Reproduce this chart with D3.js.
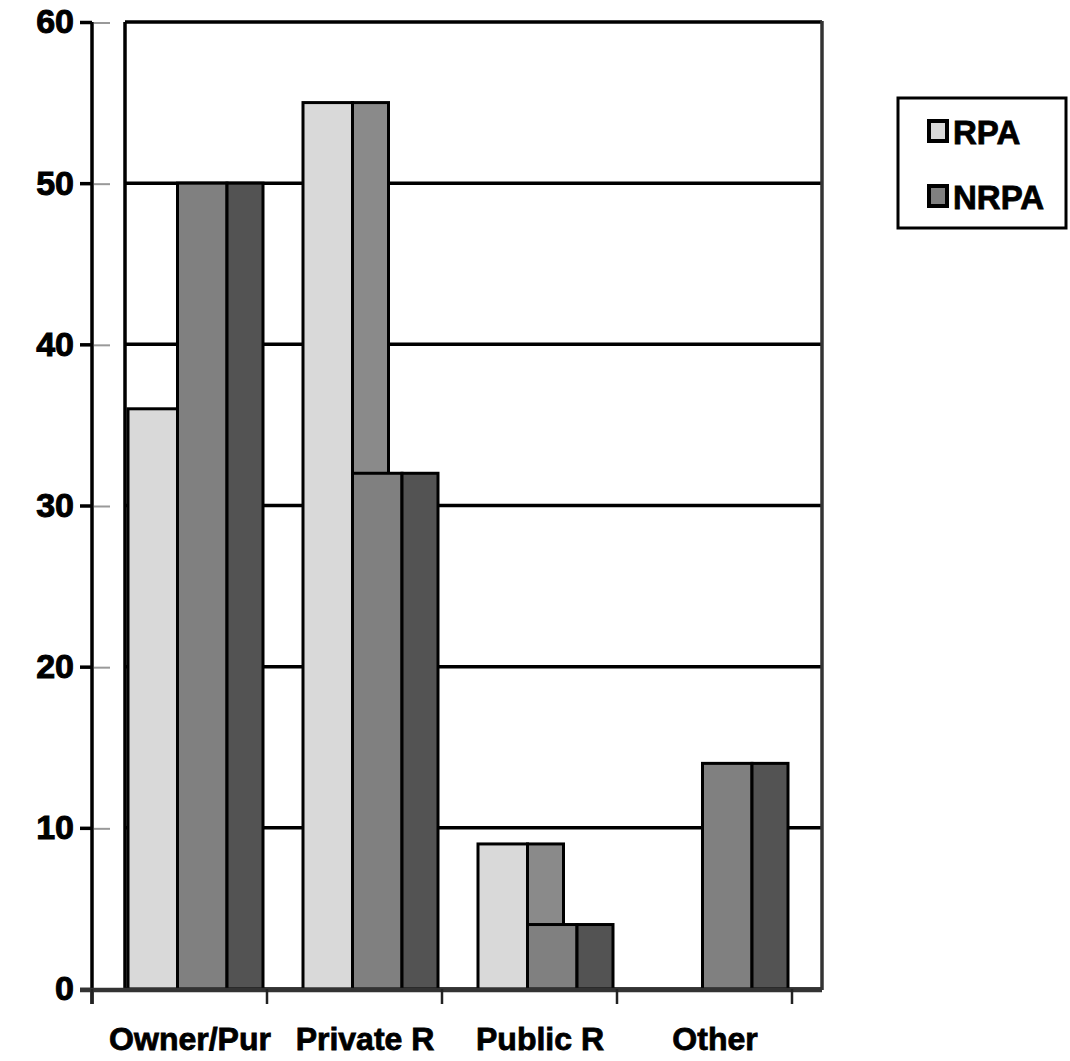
<!DOCTYPE html>
<html>
<head>
<meta charset="utf-8">
<script src="https://cdn.jsdelivr.net/npm/d3@7/dist/d3.min.js"></script>
<style>
  body { margin: 0; background: #fff; }
  text { font-family: "Liberation Sans", Arial, sans-serif; font-weight: bold; }
</style>
</head>
<body>
<div id="chart"></div>
<script>
var categories = ["Owner/Pur", "Private R", "Public R", "Other"];
var rpaValues = [36, 55, 9, 0];
var nrpaValues = [50, 32, 4, 14];
var yTicks = [0, 10, 20, 30, 40, 50, 60];
var seriesNames = ["RPA", "NRPA"];

var width = 1070, height = 1061;
var axisLeft = 92, axisRight = 792, wallShift = 33, wallRight = 822;

var svg = d3.select("#chart")
  .append("svg")
    .attr("width", width)
    .attr("height", height);

var y = d3.scaleLinear().domain([0, 60]).range([989, 22]);
var x = d3.scaleBand().domain(categories).range([axisLeft, axisRight]).padding(0);
var bw = x.bandwidth();

// pieces of a group, as share of the band
var gap = 36 / 175, frontW = 49.5 / 175, sideW = 36 / 175;

// back wall gridlines
svg.selectAll(".grid")
  .data(yTicks)
  .enter()
  .append("line")
    .attr("x1", axisLeft + wallShift)
    .attr("x2", wallRight)
    .attr("y1", function(d) { return y(d); })
    .attr("y2", function(d) { return y(d); })
    .style("stroke", "#000")
    .style("stroke-width", 3.5);

// little grey stubs between axis and wall
svg.selectAll(".stub")
  .data(yTicks.filter(function(d) { return d > 0; }))
  .enter()
  .append("line")
    .attr("x1", axisLeft + 2)
    .attr("x2", axisLeft + 18)
    .attr("y1", function(d) { return y(d) + 1; })
    .attr("y2", function(d) { return y(d) + 1; })
    .style("stroke", "#999")
    .style("stroke-width", 2);

// wall sides
svg.append("line")
  .attr("x1", axisLeft + wallShift).attr("x2", axisLeft + wallShift)
  .attr("y1", y(60)).attr("y2", y(0))
  .style("stroke", "#000").style("stroke-width", 3.5);
svg.append("line")
  .attr("x1", wallRight).attr("x2", wallRight)
  .attr("y1", y(60) - 1).attr("y2", y(0) + 1)
  .style("stroke", "#333").style("stroke-width", 3.5);

// bars: each series has a front face and a flat side face
var groups = svg.selectAll(".grp")
  .data(categories)
  .enter()
  .append("g")
    .attr("transform", function(d) { return "translate(" + x(d) + ",0)"; });

var parts = [
  {vals: rpaValues, off: gap, w: frontW, fill: "#d9d9d9"},
  {vals: rpaValues, off: gap + frontW, w: sideW, fill: "#8a8a8a"},
  {vals: nrpaValues, off: gap + frontW, w: frontW, fill: "#808080"},
  {vals: nrpaValues, off: gap + 2 * frontW, w: sideW, fill: "#535353"}
];

parts.forEach(function(p) {
  groups.append("rect")
    .attr("x", p.off * bw)
    .attr("width", p.w * bw)
    .attr("y", function(d, i) { return y(p.vals[i]); })
    .attr("height", function(d, i) { return y(0) - y(p.vals[i]); })
    .style("fill", p.fill)
    .style("stroke", function(d, i) { return p.vals[i] > 0 ? "#000" : "none"; })
    .style("stroke-width", 3);
});

// y axis
var yAxis = svg.append("g")
  .attr("transform", "translate(" + axisLeft + ",0)")
  .call(d3.axisLeft(y).tickValues(yTicks).tickSize(12).tickPadding(6).tickFormat(d3.format("d")));
yAxis.select(".domain").remove();
yAxis.selectAll(".tick line").style("stroke", "#000").style("stroke-width", 3.5);
yAxis.selectAll(".tick text")
  .style("font-size", "34px")
  .style("fill", "#000")
  .style("stroke", "#000")
  .style("stroke-width", 1);
svg.append("line")
  .attr("x1", axisLeft).attr("x2", axisLeft)
  .attr("y1", y(60)).attr("y2", y(0) + 15)
  .style("stroke", "#000").style("stroke-width", 3.5);

// x axis
svg.append("line")
  .attr("x1", 80).attr("x2", wallRight)
  .attr("y1", y(0) + 1).attr("y2", y(0) + 1)
  .style("stroke", "#333").style("stroke-width", 4.5);
var bounds = categories.map(function(c) { return x(c); }).concat([axisRight]);
svg.selectAll(".xtick")
  .data(bounds)
  .enter()
  .append("line")
    .attr("x1", function(d) { return d; })
    .attr("x2", function(d) { return d; })
    .attr("y1", y(0))
    .attr("y2", y(0) + 15)
    .style("stroke", "#222")
    .style("stroke-width", 2.5);

svg.selectAll(".xlabel")
  .data(categories)
  .enter()
  .append("text")
    .attr("x", function(d) { return x(d) + wallShift / 2 + bw / 2 - 6; })
    .attr("y", 1050)
    .attr("text-anchor", "middle")
    .style("font-size", "32px")
    .style("stroke", "#000")
    .style("stroke-width", 0.8)
    .text(function(d) { return d; });

// legend
var legend = svg.append("g").attr("transform", "translate(898,98)");
legend.append("rect")
  .attr("width", 168).attr("height", 130)
  .style("fill", "#fff").style("stroke", "#000").style("stroke-width", 3);
var legendFills = ["#d9d9d9", "#808080"];
var items = legend.selectAll(".item")
  .data(seriesNames)
  .enter()
  .append("g")
    .attr("transform", function(d, i) { return "translate(0," + (33 + i * 65) + ")"; });
items.append("rect")
  .attr("x", 31).attr("y", -10)
  .attr("width", 18).attr("height", 20)
  .style("fill", function(d, i) { return legendFills[i]; })
  .style("stroke", "#000").style("stroke-width", 4);
items.append("text")
  .attr("x", 55).attr("y", 13)
  .style("font-size", "33px")
  .style("stroke", "#000")
  .style("stroke-width", 0.8)
  .text(function(d) { return d; });
</script>
</body>
</html>
